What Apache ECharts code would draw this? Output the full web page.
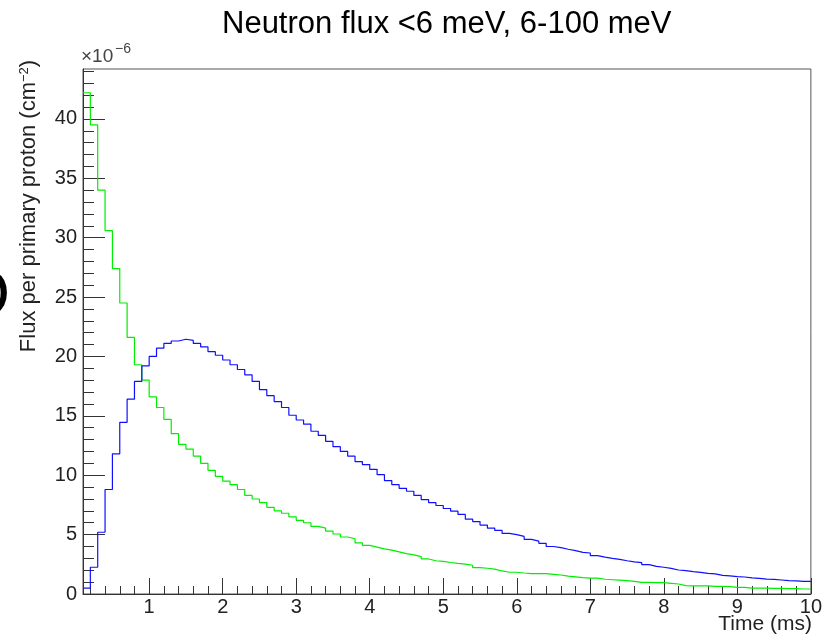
<!DOCTYPE html>
<html>
<head>
<meta charset="utf-8">
<script src="https://cdn.jsdelivr.net/npm/echarts@6/dist/echarts.min.js"></script>
<style>
html,body{margin:0;padding:0;background:#fff;}
#chart{width:825px;height:638px;}
</style>
</head>
<body>
<div id="chart"></div>
<script>
// Histogram: 0.1 ms bins from 0.1 to 10 ms (low edges)
var binStart = 0.1;
var binWidth = 0.1;
var xMax = 10;

// 6-100 meV (blue), units of 1e-6
var blueValues = [
  0.5, 2.25, 5.2, 8.8, 11.8, 14.45, 16.4, 17.9, 19.2,
  20.0, 20.7, 21.1, 21.3, 21.45, 21.35, 21.1, 20.8, 20.4, 20.1,
  19.7, 19.3, 18.9, 18.45, 17.9, 17.2, 16.7, 16.2, 15.7, 15.05,
  14.65, 14.3, 13.7, 13.35, 12.85, 12.4, 12.0, 11.6, 11.15, 10.9,
  10.5, 10.05, 9.55, 9.2, 8.9, 8.65, 8.3, 7.95, 7.7, 7.45,
  7.2, 6.97, 6.7, 6.3, 6.1, 5.8, 5.55, 5.35, 5.1, 5.0,
  4.85, 4.6, 4.45, 4.27, 4.0, 3.9, 3.77, 3.65, 3.5, 3.45,
  3.23, 3.1, 3.0, 2.92, 2.8, 2.7, 2.64, 2.47, 2.33, 2.25,
  2.16, 2.02, 1.97, 1.88, 1.82, 1.74, 1.69, 1.57, 1.52, 1.46,
  1.43, 1.35, 1.32, 1.26, 1.23, 1.18, 1.12, 1.1, 1.06, 1.06
];

// <6 meV (green), units of 1e-6
var greenValues = [
  42.2, 39.5, 34.0, 30.6, 27.4, 24.5, 21.6, 19.3, 18.0,
  16.6, 15.7, 14.7, 13.5, 12.6, 12.2, 11.6, 11.0, 10.4, 9.9,
  9.5, 9.2, 8.8, 8.3, 8.0, 7.7, 7.3, 7.0, 6.8, 6.5,
  6.2, 6.0, 5.7, 5.55, 5.3, 5.05, 4.8, 4.65, 4.3, 4.1,
  3.95, 3.8, 3.7, 3.55, 3.4, 3.3, 3.15, 2.95, 2.8, 2.75,
  2.65, 2.58, 2.52, 2.42, 2.22, 2.17, 2.1, 1.94, 1.83, 1.83,
  1.77, 1.72, 1.72, 1.72, 1.66, 1.6, 1.5, 1.44, 1.38, 1.33,
  1.33, 1.24, 1.2, 1.16, 1.12, 1.06, 0.98, 0.98, 0.96, 0.96,
  0.9, 0.84, 0.7, 0.68, 0.68, 0.68, 0.65, 0.65, 0.62, 0.56,
  0.56, 0.5, 0.5, 0.5, 0.48, 0.48, 0.45, 0.45, 0.42, 0.42
];

var xMajorTicks = [1, 2, 3, 4, 5, 6, 7, 8, 9, 10];
var yMajorTicks = [0, 5, 10, 15, 20, 25, 30, 35, 40];
var yMax = 44.2;

function round(v){ return Math.round(v * 1000) / 1000; }
var xMinorTicks = [];
for (var k = 2; k <= 100; k += 2) {
  var v = round(k / 10);
  if (xMajorTicks.indexOf(v) < 0) xMinorTicks.push(v);
}
var yMinorTicks = [];
for (var j = 1; j <= 44; j++) {
  if (yMajorTicks.indexOf(j) < 0) yMinorTicks.push(j);
}

function histData(vals) {
  var d = [];
  for (var i = 0; i < vals.length; i++) {
    d.push([round(binStart + i * binWidth), vals[i]]);
  }
  d.push([xMax, vals[vals.length - 1]]);
  return d;
}

var FONT = 'Liberation Sans, Arial, Helvetica, sans-serif';
var chart = echarts.init(document.getElementById('chart'), null, {renderer: 'canvas'});

var baseX = {
  type: 'value', min: binStart, max: xMax, gridIndex: 0,
  splitLine: {show: false}
};
var baseY = {
  type: 'value', min: 0, max: yMax, gridIndex: 0,
  splitLine: {show: false}
};

chart.setOption({
  animation: false,
  backgroundColor: '#ffffff',
  title: {
    text: 'Neutron flux <6 meV, 6-100 meV',
    left: 217, top: 4,
    textStyle: {fontFamily: FONT, fontSize: 31, fontWeight: 'normal', color: '#000'}
  },
  grid: {
    left: 83, right: 12, top: 69, bottom: 44,
    show: true, borderColor: '#555', borderWidth: 1, backgroundColor: 'transparent'
  },
  xAxis: [
    Object.assign({}, baseX, {
      position: 'bottom',
      axisLine: {show: true, onZero: false, lineStyle: {color: '#333', width: 1}},
      axisTick: {show: true, inside: true, length: 16, customValues: xMajorTicks, lineStyle: {color: '#333'}},
      axisLabel: {show: true, customValues: xMajorTicks, margin: 3, fontFamily: FONT, fontSize: 20, color: '#222'}
    }),
    Object.assign({}, baseX, {
      position: 'bottom',
      axisLine: {show: false},
      axisTick: {show: true, inside: true, length: 8, customValues: xMinorTicks, lineStyle: {color: '#333'}},
      axisLabel: {show: false}
    })
  ],
  yAxis: [
    Object.assign({}, baseY, {
      position: 'left',
      axisLine: {show: true, onZero: false, lineStyle: {color: '#333', width: 1}},
      axisTick: {show: true, inside: true, length: 22, customValues: yMajorTicks, lineStyle: {color: '#333'}},
      axisLabel: {show: true, customValues: yMajorTicks, margin: 6, fontFamily: FONT, fontSize: 20, color: '#222'}
    }),
    Object.assign({}, baseY, {
      position: 'left',
      axisLine: {show: false},
      axisTick: {show: true, inside: true, length: 11, customValues: yMinorTicks, lineStyle: {color: '#333'}},
      axisLabel: {show: false}
    })
  ],
  series: [
    {
      name: '<6 meV', type: 'line', step: 'end', xAxisIndex: 0, yAxisIndex: 0,
      data: histData(greenValues), showSymbol: false, symbol: 'none',
      lineStyle: {color: '#00ee00', width: 1.2}, z: 3
    },
    {
      name: '6-100 meV', type: 'line', step: 'end', xAxisIndex: 0, yAxisIndex: 0,
      data: histData(blueValues), showSymbol: false, symbol: 'none',
      lineStyle: {color: '#1010ff', width: 1.2}, z: 4
    }
  ],
  graphic: [
    {
      type: 'text', x: 81, y: 47,
      style: {text: '\u00d710', fontFamily: FONT, fontSize: 19, fill: '#444', textVerticalAlign: 'top'}
    },
    {
      type: 'text', x: 115, y: 42,
      style: {text: '\u22126', fontFamily: FONT, fontSize: 14, fill: '#444', textVerticalAlign: 'top'}
    },
    {
      type: 'text', x: 29, y: 206, rotation: Math.PI / 2,
      style: {
        text: 'Flux per primary proton (cm{sup|\u22122})',
        fontFamily: FONT, fontSize: 22, fill: '#222',
        align: 'center', verticalAlign: 'middle',
        rich: {sup: {fontFamily: FONT, fontSize: 13, fill: '#222', verticalAlign: 'top', padding: [0, 0, 9, 0]}}
      }
    },
    {
      type: 'text', x: 812, y: 614,
      style: {text: 'Time (ms)', fontFamily: FONT, fontSize: 21, fill: '#222', align: 'right', verticalAlign: 'top'}
    },
    {
      type: 'text', x: 10, y: 298,
      style: {text: 'O', fontFamily: FONT, fontSize: 66, fill: '#000', align: 'right', verticalAlign: 'middle'}
    }
  ]
});
</script>
</body>
</html>
